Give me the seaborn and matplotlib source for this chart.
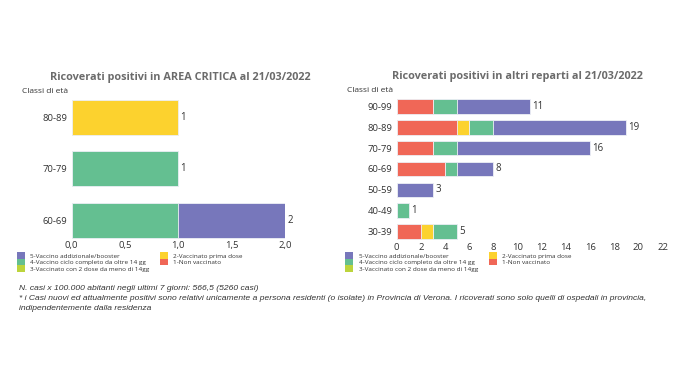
import numpy as np
import pandas as pd
import matplotlib
matplotlib.use('Agg')
import matplotlib.pyplot as plt
from matplotlib.patches import Patch
from matplotlib.ticker import FuncFormatter
import seaborn as sns

# Data
left_classes = ['80-89', '70-79', '60-69']
left_non_vacc = [0, 0, 0]
left_prima_dose = [1, 0, 0]
left_due_dosi = [0, 0, 0]
left_ciclo = [0, 1, 1]
left_booster = [0, 0, 1]

right_classes = ['90-99', '80-89', '70-79', '60-69', '50-59', '40-49', '30-39']
right_non_vacc = [3, 5, 3, 4, 0, 0, 2]
right_prima_dose = [0, 1, 0, 0, 0, 0, 1]
right_due_dosi = [0, 0, 0, 0, 0, 0, 0]
right_ciclo = [2, 2, 2, 1, 0, 1, 2]
right_booster = [6, 11, 11, 3, 3, 0, 0]

labels = ['1-Non vaccinato', '2-Vaccinato prima dose',
          '3-Vaccinato con 2 dose da meno di 14gg',
          '4-Vaccino ciclo completo da oltre 14 gg',
          '5-Vaccino addizionale/booster']
colors = ['#f06757', '#fcd22e', '#bcd43c', '#64bf91', '#7777bb']

sns.set_theme(style='white')
plt.rcParams['font.family'] = ['Open Sans', 'DejaVu Sans']

fig = plt.figure(figsize=(6.8, 3.83), dpi=100)
ax_l = fig.add_axes([0.1054, 0.3718, 0.3137, 0.375])
ax_r = fig.add_axes([0.5834, 0.3684, 0.391, 0.3807])


def stacked(ax, classes, series, width):
    df = pd.DataFrame({'classe': classes})
    cum = np.cumsum(np.array(series), axis=0)
    # draw cumulative totals from the outermost layer inwards
    for k in range(len(series) - 1, -1, -1):
        d = df.copy()
        d['v'] = cum[k]
        d = d[d['v'] > 0]
        sns.barplot(data=d, x='v', y='classe', order=classes, orient='h',
                    color=colors[k], saturation=1, width=width,
                    edgecolor='#eef0f6', linewidth=0.6, ax=ax)
    ax.bar_label(ax.containers[0], fmt='%d', padding=1.5, fontsize=7, color='#333333')


stacked(ax_l, left_classes,
        [left_non_vacc, left_prima_dose, left_due_dosi, left_ciclo, left_booster], 0.68)
stacked(ax_r, right_classes,
        [right_non_vacc, right_prima_dose, right_due_dosi, right_ciclo, right_booster], 0.7)

ax_l.set_xlim(0, 2)
ax_l.set_xticks([0, 0.5, 1, 1.5, 2])
ax_l.xaxis.set_major_formatter(FuncFormatter(lambda v, p: f'{v:.1f}'.replace('.', ',')))
ax_l.set_ylim(2.4, -0.4)
ax_r.set_xlim(0, 22)
ax_r.set_xticks(range(0, 23, 2))
ax_r.set_ylim(6.5, -0.5)

for ax in (ax_l, ax_r):
    sns.despine(ax=ax, left=True, bottom=True)
    ax.set_xlabel('')
    ax.set_ylabel('')
    ax.tick_params(axis='both', length=0, labelsize=6.8, colors='#333333')
    ax.tick_params(axis='x', pad=0.5)
    ax.tick_params(axis='y', pad=3)

# titles and axis captions
fig.text(180.5 / 680, 1 - 77.5 / 383, 'Ricoverati positivi in AREA CRITICA al 21/03/2022',
         ha='center', va='center', fontsize=7.8, fontweight='bold', color='#6b6b6b')
fig.text(517 / 680, 1 - 76.5 / 383, 'Ricoverati positivi in altri reparti al 21/03/2022',
         ha='center', va='center', fontsize=7.8, fontweight='bold', color='#6b6b6b')
fig.text(0.032, 0.760, 'Classi di età', ha='left', va='center', fontsize=6, color='#333333')
fig.text(0.510, 0.765, 'Classi di età', ha='left', va='center', fontsize=6, color='#333333')

# legends (column 1: 5,4,3 / column 2: 2,1)
order = [4, 3, 2, 1, 0]
handles = [Patch(facecolor=colors[i], edgecolor='none') for i in order]
names = [labels[i] for i in order]
for x0 in (0.025, 0.508):
    fig.legend(handles, names, loc='upper left', bbox_to_anchor=(x0, 1 - 252.5 / 383), ncol=2,
               frameon=False, fontsize=4.6, handlelength=1.25, handleheight=1.15,
               handletextpad=0.8, labelspacing=0.0, columnspacing=1.7, borderaxespad=0,
               borderpad=0, labelcolor='#333333')

notes = ['N. casi x 100.000 abitanti negli ultimi 7 giorni: 566,5 (5260 casi)',
         '* i Casi nuovi ed attualmente positivi sono relativi unicamente a persona residenti '
         '(o isolate) in Provincia di Verona. I ricoverati sono solo quelli di ospedali in provincia,',
         'indipendentemente dalla residenza']
for i, t in enumerate(notes):
    fig.text(0.028, 1 - (288.7 + 10 * i) / 383, t, ha='left', va='center', fontsize=6.1,
             style='italic', color='#333333', family=['Liberation Sans', 'DejaVu Sans'])

fig.savefig('out.png', dpi=100)
